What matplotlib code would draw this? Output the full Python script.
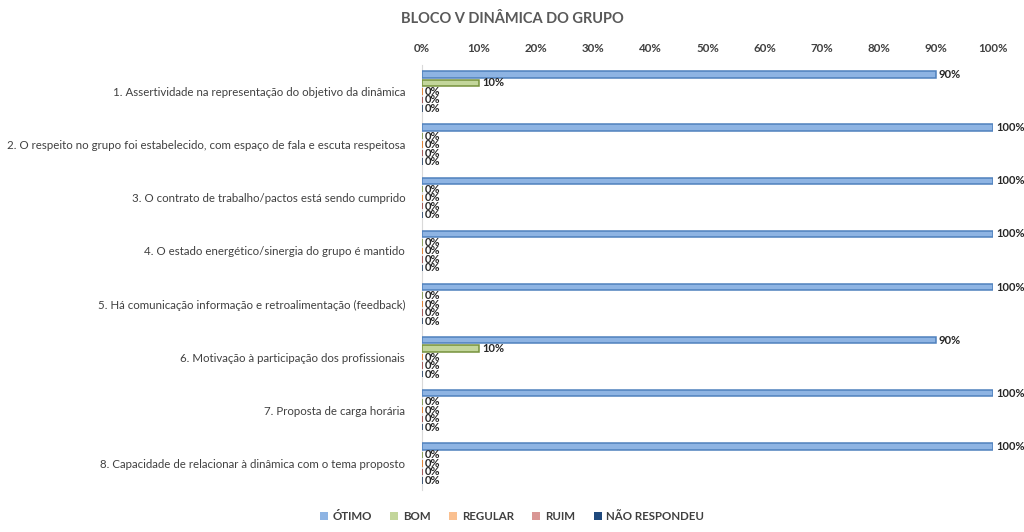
import numpy as np
import matplotlib.pyplot as plt

plt.rcParams['font.family'] = ['Lato', 'DejaVu Sans']

questions = [
    "1. Assertividade na representação do objetivo da dinâmica",
    "2. O respeito no grupo foi estabelecido, com espaço de fala e escuta respeitosa",
    "3. O contrato de trabalho/pactos está sendo cumprido",
    "4. O estado energético/sinergia do grupo é mantido",
    "5. Há comunicação informação e retroalimentação (feedback)",
    "6. Motivação à participação dos profissionais",
    "7. Proposta de carga horária",
    "8. Capacidade de relacionar à dinâmica com o tema proposto",
]
series = ["ÓTIMO", "BOM", "REGULAR", "RUIM", "NÃO RESPONDEU"]
otimo = [90, 100, 100, 100, 100, 90, 100, 100]
bom = [10, 0, 0, 0, 0, 10, 0, 0]
regular = [0, 0, 0, 0, 0, 0, 0, 0]
ruim = [0, 0, 0, 0, 0, 0, 0, 0]
nao_resp = [0, 0, 0, 0, 0, 0, 0, 0]

values = [otimo, bom, regular, ruim, nao_resp]
colors = ["#8EB4E3", "#C3D69B", "#FAC090", "#D99694", "#1F497D"]
edges = ["#4F81BD", "#76923C", "#E46C0A", "#953735", "#17375E"]

fig = plt.figure(figsize=(10.24, 5.32), dpi=100)
ax = fig.add_axes([0.412, 0.079, 0.558, 0.799])

y = np.arange(len(questions))
step = 0.16
h = 0.12
for k, (name, vals) in enumerate(zip(series, values)):
    pos = y + (k - 2) * step
    ax.barh(pos, vals, height=h, color=colors[k], edgecolor=edges[k],
            linewidth=1.1, label=name, zorder=3)
    for p, v in zip(pos, vals):
        ax.text(v + 0.5, p, f"{v}%", va='center', ha='left',
                fontsize=8, fontweight='bold', color='#262626', zorder=4)

ax.set_xlim(0, 100)
ax.set_ylim(len(questions) - 0.5, -0.5)
ax.set_xticks(np.arange(0, 101, 10))
ax.set_xticklabels([f"{t}%" for t in range(0, 101, 10)])
ax.xaxis.tick_top()
ax.tick_params(axis='x', length=0, labelsize=8.3, pad=8, labelcolor='#404040')
for lbl in ax.get_xticklabels():
    lbl.set_fontweight('bold')
ax.set_yticks(y)
ax.set_yticklabels(questions, fontsize=8.3, color='#404040')
ax.tick_params(axis='y', length=0, pad=12)

for s in ['top', 'right', 'bottom']:
    ax.spines[s].set_visible(False)
ax.spines['left'].set_color('#D9D9D9')
ax.spines['left'].set_zorder(1)

fig.text(0.5, 0.965, "BLOCO V DINÂMICA DO GRUPO", ha='center', va='center',
         fontsize=10.5, fontweight='bold', color='#595959')

fig.legend(loc='lower center', bbox_to_anchor=(0.5, 0.0), ncol=5, frameon=False,
           handlelength=0.7, handleheight=0.7, columnspacing=1.6,
           handletextpad=0.4, prop={'weight': 'bold', 'size': 8.3})
leg = fig.legends[0]
for t in leg.get_texts():
    t.set_color('#404040')
for p in leg.get_patches():
    p.set_edgecolor(p.get_facecolor())
    p.set_linewidth(0)

fig.savefig("out.png", dpi=100)
